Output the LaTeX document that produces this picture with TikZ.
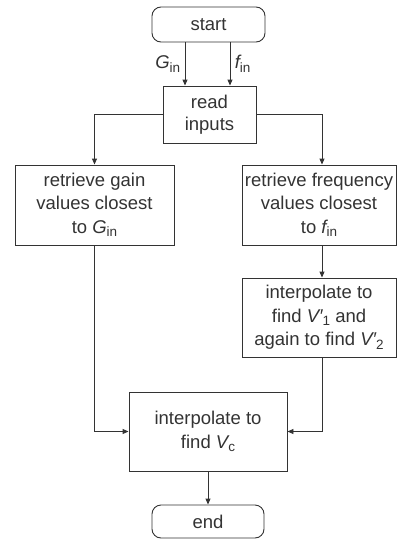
\documentclass[tikz,border=0pt]{standalone}
\usepackage{fontspec}
\setmainfont{Liberation Sans}
\usetikzlibrary{arrows.meta,calc}
\definecolor{ln}{HTML}{333333}
\newcommand{\mysub}[1]{\raisebox{-3.5pt}{\fontsize{13.5}{13.5}\selectfont #1}}
\newcommand{\vin}[1]{{\itshape #1}\mysub{in}}
\begin{document}
\begin{tikzpicture}[x=1pt,y=-1pt,
  font=\fontsize{18.5}{23.5}\selectfont,
  box/.style={draw=ln,line width=0.9pt,align=center,inner sep=0pt,text=ln},
  term/.style={box,rounded corners=9pt},
  conn/.style={draw=ln,line width=0.9pt,-{Triangle[length=6pt,width=5pt]}}]
\useasboundingbox (0,0) rectangle (397,541);
\node[term,minimum width=113pt,minimum height=35pt] (start) at (208.5,24.5) {start};
\node[box,minimum width=93pt,minimum height=57pt,font=\fontsize{18.5}{21.5}\selectfont] (read) at (209.5,114.5) {read\\inputs};
\node[box,minimum width=159pt,minimum height=80pt] (gain) at (94.5,205) {retrieve gain\\values closest\\to \vin{G}};
\node[box,minimum width=154pt,minimum height=80pt] (freq) at (319,205) {retrieve frequency\\values closest\\to \vin{f}};
\node[box,minimum width=154pt,minimum height=79pt] (interp) at (319,317.5) {interpolate to\\find {\itshape V′}\mysub{1} and\\again to find {\itshape V′}\mysub{2}};
\node[box,minimum width=158pt,minimum height=79pt] (final) at (208,431.5) {interpolate to\\find {\itshape V}\mysub{c}};
\node[term,minimum width=112pt,minimum height=33pt] (end) at (208,521.5) {end};
\coordinate (s1) at (185,0);
\coordinate (s2) at (230,0);
\draw[conn] (s1 |- start.south) -- (s1 |- read.north) node[midway,left=1pt,text=ln] {\vin{G}};
\draw[conn] (s2 |- start.south) -- (s2 |- read.north) node[midway,right=1pt,text=ln] {\vin{f}};
\draw[conn] (read.west) -| (gain.north);
\draw[conn] (read.east) -| ([xshift=3pt]freq.north);
\draw[conn] ([xshift=3pt]freq.south) -- ([xshift=3pt]interp.north);
\draw[conn] (gain.south) |- (final.west);
\draw[conn] ([xshift=3pt]interp.south) |- (final.east);
\draw[conn] (final.south) -- (end.north);
\end{tikzpicture}
\end{document}
